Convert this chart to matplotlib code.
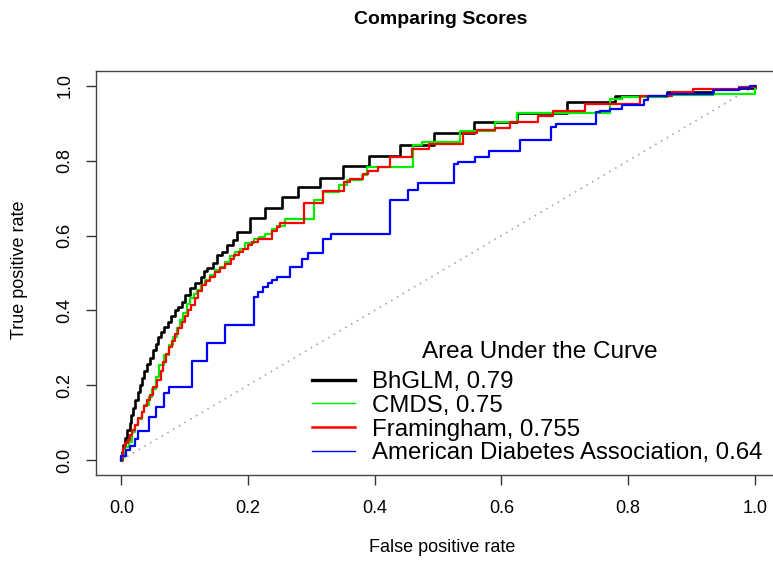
import numpy as np
import matplotlib
matplotlib.use('Agg')
import matplotlib.pyplot as plt
from matplotlib.lines import Line2D
from matplotlib.ticker import FormatStrFormatter

plt.rcParams['font.family'] = ['Liberation Sans', 'DejaVu Sans']

# ROC staircases (corner after each vertical rise)
bhglm_fpr = [0, 0.001, 0.003, 0.006, 0.009, 0.013, 0.016, 0.019, 0.022, 0.027, 0.030, 0.033, 0.036,
             0.041, 0.046, 0.050, 0.054, 0.058, 0.063, 0.068, 0.074, 0.079, 0.085, 0.090, 0.095,
             0.101, 0.109, 0.117, 0.125, 0.131, 0.136, 0.144, 0.151, 0.159, 0.167, 0.177, 0.183,
             0.203, 0.227, 0.254, 0.279, 0.314, 0.350, 0.391, 0.440, 0.494, 0.557, 0.625, 0.703,
             0.779, 0.861, 0.934, 0.976, 1.0]
bhglm_tpr = [0, 0.021, 0.040, 0.059, 0.080, 0.099, 0.120, 0.139, 0.160, 0.182, 0.200, 0.219, 0.238,
             0.256, 0.272, 0.294, 0.310, 0.328, 0.342, 0.355, 0.368, 0.385, 0.401, 0.409, 0.422,
             0.441, 0.459, 0.473, 0.489, 0.505, 0.513, 0.526, 0.547, 0.555, 0.574, 0.587, 0.609,
             0.646, 0.673, 0.702, 0.729, 0.754, 0.785, 0.812, 0.841, 0.874, 0.903, 0.929, 0.956,
             0.972, 0.985, 0.991, 0.995, 1.0]

cmds_fpr = [0, 0.001, 0.006, 0.012, 0.017, 0.022, 0.027, 0.033, 0.035, 0.043, 0.048, 0.054, 0.059,
            0.067, 0.075, 0.082, 0.088, 0.093, 0.098, 0.104, 0.109, 0.114, 0.119, 0.125, 0.132,
            0.140, 0.148, 0.156, 0.164, 0.172, 0.180, 0.188, 0.196, 0.209, 0.217, 0.227, 0.238,
            0.246, 0.259, 0.304, 0.319, 0.343, 0.356, 0.380, 0.388, 0.461, 0.474, 0.535, 0.590,
            0.624, 0.771, 0.790, 0.861, 0.934, 1.0]
cmds_tpr = [0, 0.009, 0.036, 0.049, 0.076, 0.093, 0.111, 0.129, 0.147, 0.169, 0.191, 0.222, 0.254,
            0.280, 0.307, 0.329, 0.352, 0.374, 0.393, 0.418, 0.432, 0.445, 0.454, 0.467, 0.481,
            0.494, 0.507, 0.516, 0.529, 0.545, 0.556, 0.565, 0.579, 0.590, 0.596, 0.605, 0.617,
            0.627, 0.645, 0.694, 0.716, 0.734, 0.748, 0.761, 0.783, 0.841, 0.850, 0.879, 0.905,
            0.929, 0.965, 0.971, 0.975, 0.979, 1.0]

fram_fpr = [0, 0.001, 0.003, 0.006, 0.011, 0.014, 0.017, 0.022, 0.027, 0.032, 0.035, 0.041, 0.046,
            0.050, 0.057, 0.062, 0.066, 0.071, 0.076, 0.080, 0.085, 0.090, 0.096, 0.101, 0.106,
            0.110, 0.117, 0.121, 0.128, 0.134, 0.140, 0.148, 0.156, 0.164, 0.173, 0.178, 0.185,
            0.192, 0.200, 0.207, 0.215, 0.238, 0.246, 0.251, 0.288, 0.319, 0.351, 0.361, 0.382,
            0.390, 0.405, 0.424, 0.459, 0.485, 0.540, 0.561, 0.590, 0.614, 0.658, 0.682, 0.732,
            0.819, 0.869, 0.903, 0.976, 1.0]
fram_tpr = [0, 0.013, 0.032, 0.045, 0.053, 0.067, 0.080, 0.093, 0.112, 0.128, 0.144, 0.160, 0.174,
            0.195, 0.214, 0.238, 0.262, 0.283, 0.302, 0.318, 0.336, 0.352, 0.368, 0.385, 0.401,
            0.414, 0.433, 0.451, 0.467, 0.478, 0.489, 0.502, 0.513, 0.523, 0.537, 0.547, 0.555,
            0.563, 0.574, 0.582, 0.590, 0.612, 0.622, 0.633, 0.688, 0.720, 0.744, 0.752, 0.766,
            0.774, 0.784, 0.810, 0.832, 0.845, 0.874, 0.881, 0.889, 0.903, 0.920, 0.933, 0.952,
            0.972, 0.983, 0.992, 0.996, 1.0]

ada_fpr = [0, 0.0, 0.008, 0.014, 0.021, 0.027, 0.043, 0.054, 0.067, 0.075, 0.112, 0.135, 0.164,
           0.210, 0.215, 0.224, 0.231, 0.238, 0.246, 0.267, 0.285, 0.295, 0.319, 0.331, 0.424,
           0.453, 0.469, 0.525, 0.532, 0.558, 0.581, 0.630, 0.679, 0.687, 0.750, 0.756, 0.771,
           0.790, 0.826, 0.831, 0.861, 0.934, 0.976, 0.992, 1.0]
ada_tpr = [0, 0.011, 0.027, 0.037, 0.056, 0.078, 0.116, 0.143, 0.178, 0.194, 0.266, 0.313, 0.361,
           0.435, 0.450, 0.462, 0.474, 0.481, 0.489, 0.516, 0.537, 0.553, 0.592, 0.604, 0.695,
           0.722, 0.741, 0.791, 0.798, 0.810, 0.826, 0.856, 0.890, 0.898, 0.930, 0.934, 0.938,
           0.949, 0.963, 0.972, 0.978, 0.989, 0.995, 1.0, 1.0]

labels = ['BhGLM, 0.79', 'CMDS, 0.75', 'Framingham, 0.755', 'American Diabetes Association, 0.64']
colors = ['black', '#00ee00', '#ff0000', '#0000ff']

fig = plt.figure(figsize=(7.73, 5.61), dpi=100)
ax = fig.add_axes([0.1242, 0.1533, 0.8849, 0.7201])

ax.plot([0, 1], [0, 1], color='#a8a8a8', lw=1.2, linestyle=(0, (1, 3)))
ax.step(bhglm_fpr, bhglm_tpr, where='post', color=colors[0], lw=1.9)
ax.step(cmds_fpr, cmds_tpr, where='post', color=colors[1], lw=1.6)
ax.step(fram_fpr, fram_tpr, where='post', color=colors[2], lw=1.6)
ax.step(ada_fpr, ada_tpr, where='post', color=colors[3], lw=1.6)

ax.set_xlim(-0.04, 1.04)
ax.set_ylim(-0.04, 1.04)
ticks = [0, 0.2, 0.4, 0.6, 0.8, 1.0]
ax.set_xticks(ticks)
ax.set_yticks(ticks)
ax.xaxis.set_major_formatter(FormatStrFormatter('%.1f'))
ax.yaxis.set_major_formatter(FormatStrFormatter('%.1f'))
ax.tick_params(axis='both', direction='out', length=7.2, width=1, labelsize=13, color='#333333')
ax.tick_params(axis='x', pad=11)
ax.tick_params(axis='y', pad=9)
for lab in ax.get_yticklabels():
    lab.set_rotation(90)
    lab.set_va('center')
for sp in ax.spines.values():
    sp.set_color('#444444')
    sp.set_linewidth(1.0)

fig.text(441 / 773, 1 - 20 / 561, 'Comparing Scores', ha='center', va='center',
         fontsize=14, fontweight='bold')
fig.text(442 / 773, 1 - 548 / 561, 'False positive rate', ha='center', va='center', fontsize=13)
fig.text(20 / 773, 1 - 270 / 561, 'True positive rate', ha='center', va='center',
         fontsize=13, rotation=90)

# legend title drawn on its own so the gap above the entries can match
fig.text(540 / 773, 1 - 352 / 561, 'Area Under the Curve', ha='center', va='center', fontsize=17.5)

handles = [Line2D([], [], color=colors[0], lw=2.4),
           Line2D([], [], color=colors[1], lw=1.0),
           Line2D([], [], color=colors[2], lw=1.8),
           Line2D([], [], color=colors[3], lw=1.0)]
leg = ax.legend(handles, labels, frameon=False,
                loc='upper left', bbox_to_anchor=(312 / 773, 1 - 371 / 561),
                bbox_transform=fig.transFigure, fontsize=17.3,
                borderpad=0, borderaxespad=0, labelspacing=0.075, handlelength=1.8,
                handletextpad=0.7)

fig.savefig('out.png', dpi=100)
